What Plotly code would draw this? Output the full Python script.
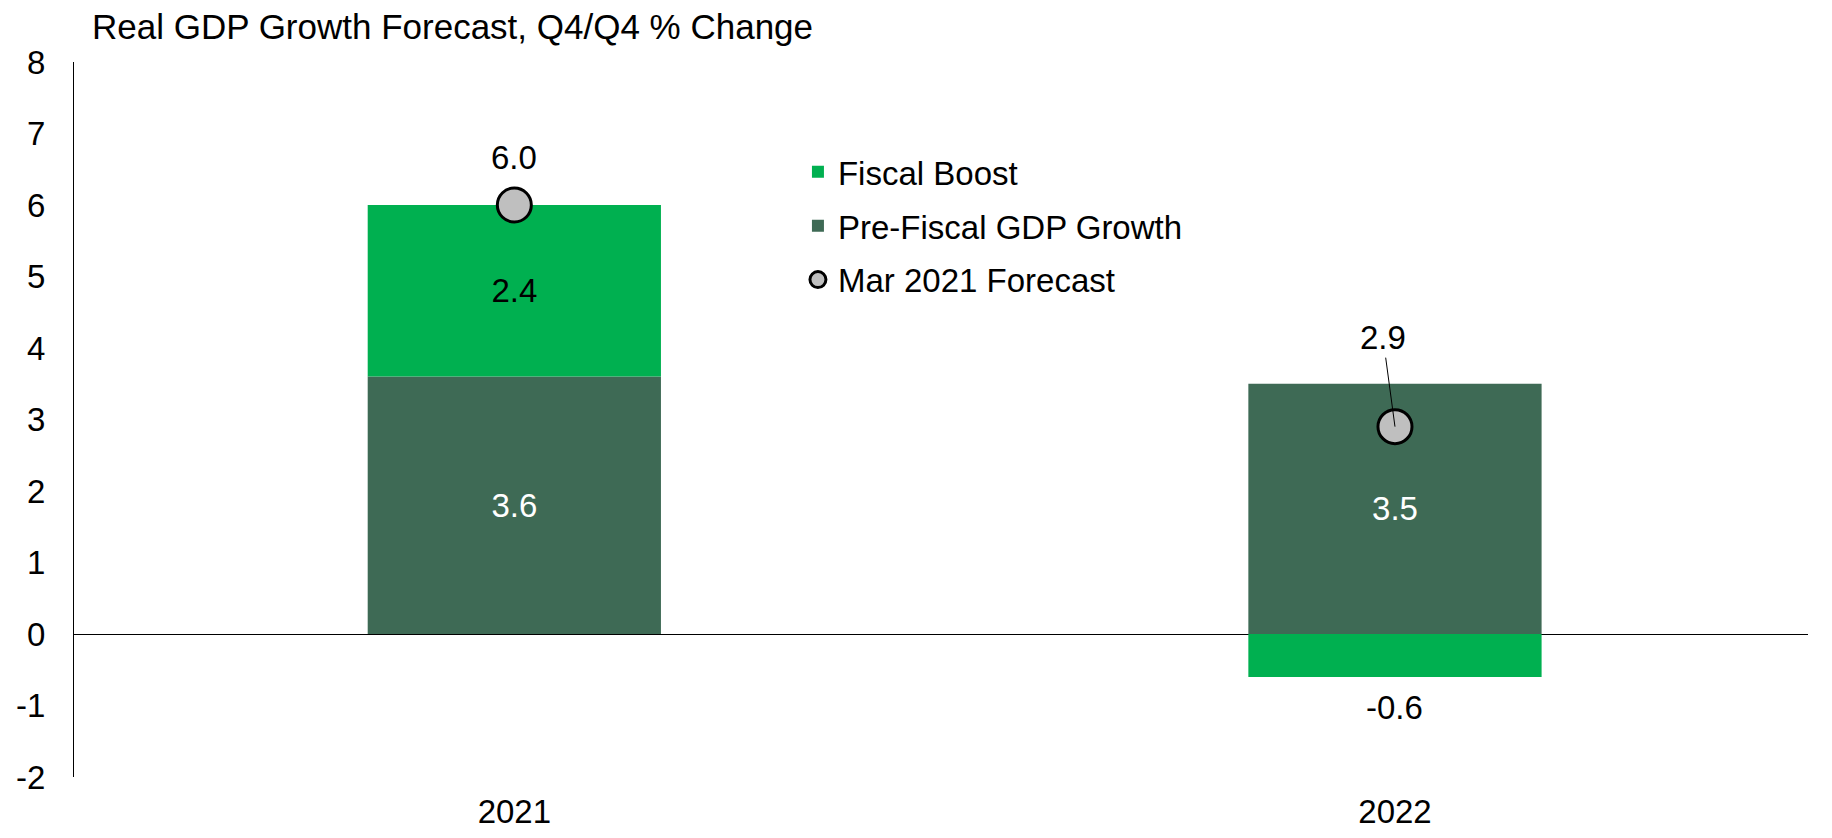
import plotly.graph_objects as go

years = ["2021", "2022"]
pre_fiscal = [3.6, 3.5]
fiscal_boost = [2.4, -0.6]
mar_forecast = [6.0, 2.9]
y_ticks = [-2, -1, 0, 1, 2, 3, 4, 5, 6, 7, 8]
y_ticktext = [str(v) for v in y_ticks]

FONT = "Liberation Sans, Arial, sans-serif"
FS = 33
DARK = "#3E6A55"
GREEN = "#00B050"

# page has an 8px body margin; figure sized to fit the 1832x838 window
W, H = 1816, 822

fig = go.Figure()

fig.add_trace(go.Bar(
    x=years, y=pre_fiscal, name="Pre-Fiscal GDP Growth",
    marker=dict(color=DARK, line=dict(width=0)),
    text=[f"{v:.1f}" for v in pre_fiscal], textposition="inside",
    insidetextanchor="middle", textangle=0,
    textfont=dict(color="white", size=FS, family=FONT),
    width=0.333, legendrank=2, legendgroup="b",
))
fig.add_trace(go.Bar(
    x=years, y=fiscal_boost, name="Fiscal Boost",
    marker=dict(color=GREEN, line=dict(width=0)),
    text=[f"{v:.1f}" if v > 0 else "" for v in fiscal_boost], textposition="inside",
    insidetextanchor="middle", textangle=0,
    textfont=dict(color="black", size=FS, family=FONT),
    width=0.333, legendrank=1, legendgroup="a",
))
fig.add_trace(go.Scatter(
    x=years, y=mar_forecast, name="Mar 2021 Forecast", mode="markers",
    marker=dict(size=34, color="#BFBFBF", line=dict(color="black", width=3)),
    legendrank=3, legendgroup="c",
))

# labels for forecast markers (x given as category index)
fig.add_annotation(x=0, y=mar_forecast[0], text=f"{mar_forecast[0]:.1f}",
                   showarrow=False, yshift=48, font=dict(size=FS, family=FONT, color="black"))
fig.add_annotation(x=1, y=mar_forecast[1], text=f"{mar_forecast[1]:.1f}",
                   showarrow=True, arrowhead=0, arrowwidth=1, arrowcolor="black",
                   ax=-12, ay=-89, standoff=0,
                   font=dict(size=FS, family=FONT, color="black"))
# negative fiscal boost label below bar
for i, v in enumerate(fiscal_boost):
    if v < 0:
        fig.add_annotation(x=i, y=v, text=f"{v:.1f}", showarrow=False,
                           yshift=-31, font=dict(size=FS, family=FONT, color="black"))

fig.update_layout(
    width=W, height=H,
    barmode="relative",
    plot_bgcolor="white", paper_bgcolor="white",
    margin=dict(l=66, r=16, t=54, b=53, autoexpand=False),
    font=dict(family=FONT, size=FS, color="black"),
    title=dict(text="Real GDP Growth Forecast, Q4/Q4 % Change",
               xref="container", yref="container", x=84/W, xanchor="left",
               y=1 - 19/H, yanchor="middle",
               font=dict(size=35, family=FONT, color="black")),
    showlegend=True,
    legend=dict(x=0.4175, xanchor="left", y=0.8855, yanchor="top",
                traceorder="grouped", tracegroupgap=8,
                font=dict(size=FS, family=FONT, color="black"),
                bgcolor="rgba(0,0,0,0)"),
    xaxis=dict(type="category", range=[-0.5, 1.469], showline=False, showgrid=False,
               zeroline=False, ticks="", tickfont=dict(size=FS, family=FONT),
               ticklabelstandoff=12, automargin=False, fixedrange=True),
    yaxis=dict(range=[-2, 8], tickvals=y_ticks, ticktext=y_ticktext, showgrid=False,
               showline=True, linecolor="black", linewidth=1,
               zeroline=True, zerolinecolor="black", zerolinewidth=1,
               ticks="", ticklabelstandoff=21, automargin=False,
               tickfont=dict(size=FS, family=FONT)),
)

fig.write_html("out.html")
